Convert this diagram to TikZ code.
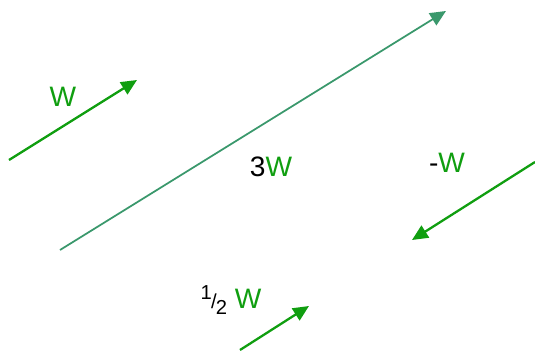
\documentclass[tikz,border=0pt]{standalone}
\usepackage{fontspec}
\setmainfont{Liberation Sans}
\usetikzlibrary{arrows.meta}
\definecolor{vecgreen}{RGB}{16,158,16}
\definecolor{vecteal}{RGB}{58,152,108}
\tikzset{
  vecarrow/.style={draw=vecgreen, line width=1.3pt, -{Triangle[length=9pt, width=8pt]}},
  bigarrow/.style={draw=vecteal, line width=1pt, -{Triangle[length=9pt, width=8pt]}},
  veclabel/.style={font=\fontsize{16}{18}\selectfont, inner sep=0pt, text=vecgreen},
}
\newcommand{\halfsym}{{\fontsize{11.5}{13}\selectfont\raisebox{5.5pt}{1}\kern-0.5pt/\kern-0.5pt\raisebox{-3.5pt}{2}}}

\begin{document}
\begin{tikzpicture}[x=0.02cm, y=-0.02cm]
  \useasboundingbox (0,0) rectangle (535,352);
  % end points of the vectors
  \coordinate (wstart) at (9,160);
  \coordinate (wend) at (137,80);
  \coordinate (tstart) at (60,250);
  \coordinate (tend) at (446,11);
  \coordinate (nstart) at (535,162);
  \coordinate (nend) at (412,240);
  \coordinate (hstart) at (240,350);
  \coordinate (hend) at (309,306);
  % vectors
  \draw[vecarrow] (wstart) -- (wend);
  \draw[bigarrow] (tstart) -- (tend);
  \draw[vecarrow] (nstart) -- (nend);
  \draw[vecarrow] (hstart) -- (hend);
  % labels
  \node[veclabel] (wlabel) at (63,97) {W};
  \node[veclabel] (tlabel) at (271,167) {\textcolor{black}{3}W};
  \node[veclabel] (nlabel) at (447,163) {\textcolor{black}{-}W};
  \node[veclabel] (hlabel) at (231,300) {\textcolor{black}{\halfsym}\ W};
\end{tikzpicture}
\end{document}
